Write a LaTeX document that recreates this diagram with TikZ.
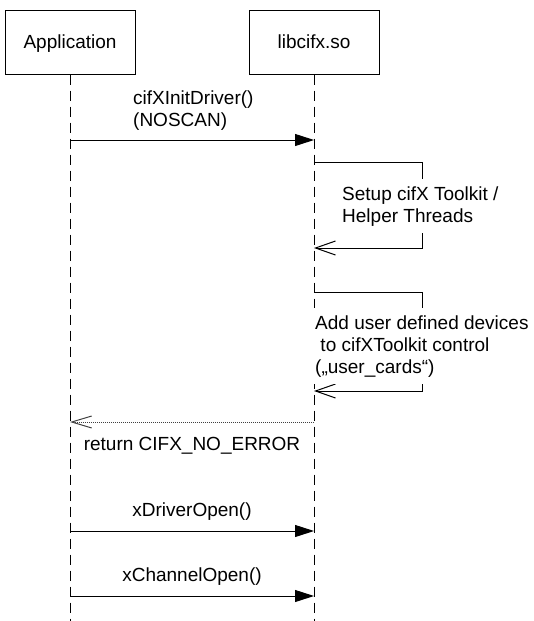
\documentclass[tikz,border=0pt]{standalone}
\usepackage{fontspec}
\setmainfont{Liberation Sans}
\usetikzlibrary{arrows.meta}
\begin{document}
\begin{tikzpicture}[x=1pt,y=-1pt,
  font=\fontsize{19}{22}\selectfont,
  actor/.style={draw, line width=1pt, minimum width=130pt, minimum height=64pt,
    inner sep=0pt, text height=13.6pt, text depth=0pt},
  lifeline/.style={line width=1pt, dash pattern=on 10pt off 6pt},
  call/.style={line width=1pt, -{Triangle[length=19pt,width=12pt]}},
  selfcall/.style={line width=1pt, -{Straight Barb[length=20pt,width=14pt]}},
  retcall/.style={line width=1pt, black!75, dash pattern=on 1pt off 1pt,
    -{Straight Barb[length=20pt,width=12pt]}},
  lbl/.style={anchor=base west, inner sep=0pt, align=left},
  clbl/.style={anchor=base, inner sep=0pt},
  slbl/.style={anchor=base west, inner xsep=2pt, inner ysep=7pt, align=left, fill=white}
]
\path[use as bounding box] (0,0) rectangle (534,621);

% actors
\node[actor] (app) at (70,42) {Application};
\node[actor] (lib) at (314,42) {libcifx.so};

% lifelines
\coordinate (appEnd) at (app |- 0,621);
\coordinate (libEnd) at (lib |- 0,621);
\draw[lifeline] (app.south) -- (appEnd);
\draw[lifeline] (lib.south) -- (libEnd);

% cifXInitDriver
\coordinate (m1a) at (app |- 0,140);
\coordinate (m1b) at (lib |- 0,140);
\draw[call] (m1a) -- (m1b);
\node[lbl] (m1t) at (133,126) {cifXInitDriver()\\(NOSCAN)};

% self call 1
\coordinate (s1a) at (lib |- 0,162);
\coordinate (s1b) at (lib |- 0,248);
\coordinate (s1r) at (422,162);
\draw[selfcall] (s1a) -- (s1r) -- (s1r |- s1b) -- (s1b);
\node[slbl] (s1t) at (340,222) {Setup cifX Toolkit /\\Helper Threads};

% self call 2
\coordinate (s2a) at (lib |- 0,292);
\coordinate (s2b) at (lib |- 0,391);
\coordinate (s2r) at (422,292);
\draw[selfcall] (s2a) -- (s2r) -- (s2r |- s2b) -- (s2b);
\node[slbl] (s2t) at (313,373) {Add user defined devices\\\ to cifXToolkit control\\(„user\_cards“)};

% return
\coordinate (r1a) at (app |- 0,422);
\coordinate (r1b) at (lib |- 0,422);
\draw[retcall] (r1b) -- (r1a);
\node[clbl] (r1t) at (192,450) {return CIFX\_NO\_ERROR};

% xDriverOpen
\coordinate (m2a) at (app |- 0,531);
\coordinate (m2b) at (lib |- 0,531);
\draw[call] (m2a) -- (m2b);
\node[clbl] (m2t) at (192,516.5) {xDriverOpen()};

% xChannelOpen
\coordinate (m3a) at (app |- 0,596);
\coordinate (m3b) at (lib |- 0,596);
\draw[call] (m3a) -- (m3b);
\node[clbl] (m3t) at (192,581.5) {xChannelOpen()};
\end{tikzpicture}
\end{document}
